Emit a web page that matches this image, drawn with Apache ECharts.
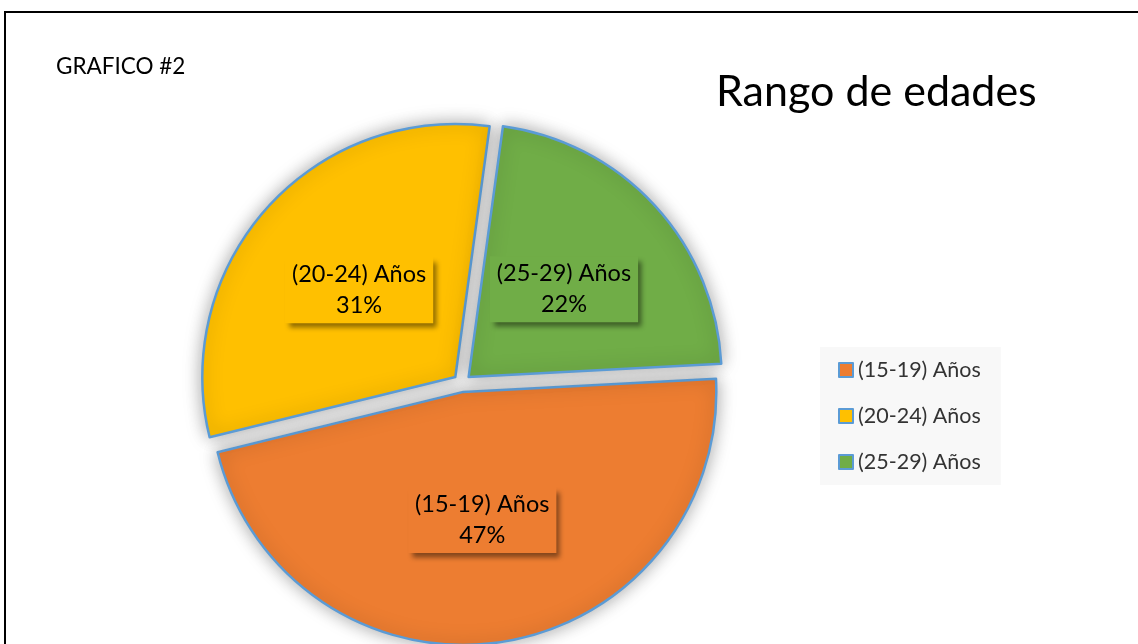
<!DOCTYPE html>
<html>
<head>
<meta charset="utf-8">
<script src="https://cdn.jsdelivr.net/npm/echarts@6/dist/echarts.min.js"></script>
<style>html,body{margin:0;padding:0;background:#fff}#c{width:1138px;height:644px}</style>
</head>
<body>
<div id="c"></div>
<script>
const categories = ['(15-19) Años', '(20-24) Años', '(25-29) Años'];
const values = [47, 31, 22];
const colors = ['#ED7D31', '#FFC000', '#70AD47'];

const chart = echarts.init(document.getElementById('c'), null, {renderer: 'canvas'});
const data = categories.map((c, i) => ({
  name: c, value: values[i], selected: true,
  itemStyle: {color: colors[i]},
  label: {backgroundColor: colors[i]}
}));
chart.setOption({
  animation: false,
  title: [
    {text: 'Rango de edades', left: 711, top: 66, textStyle: {fontFamily: 'Lato', fontSize: 43, fontWeight: 'normal', color: '#000'}},
    {text: 'GRAFICO #2', left: 51, top: 50, textStyle: {fontFamily: 'Lato', fontSize: 22.5, fontWeight: 'normal', color: '#000'}}
  ],
  legend: {
    orient: 'vertical', left: 820, top: 347, padding: [12, 20, 12, 18],
    backgroundColor: '#f8f8f8', itemWidth: 14, itemHeight: 14, itemGap: 24,
    icon: 'rect', selectedMode: false,
    textStyle: {fontFamily: 'Lato', fontSize: 21.5, color: '#333'},
    itemStyle: {borderColor: '#5B9BD5', borderWidth: 2},
    data: categories
  },
  graphic: [
    {type: 'rect', shape: {x: 5, y: 12, width: 1140, height: 700}, style: {fill: null, stroke: '#000', lineWidth: 2}, silent: true}
  ],
  series: [{
    type: 'pie', center: [462, 383], radius: 253, startAngle: 3, clockwise: true,
    selectedMode: 'multiple', selectedOffset: 9, avoidLabelOverlap: false,
    itemStyle: {borderColor: '#5B9BD5', borderWidth: 2.5, shadowBlur: 18, shadowColor: 'rgba(0,0,0,0.35)'},
    emphasis: {disabled: true},
    select: {itemStyle: {borderColor: '#5B9BD5', borderWidth: 2.5}},
    label: {
      show: true, position: 'inside', formatter: '{b}\n{d}%',
      fontFamily: 'Lato', fontSize: 23.5, color: '#000', lineHeight: 31,
      padding: [2, 7, 2, 7], align: 'center',
      shadowBlur: 5, shadowOffsetX: 4, shadowOffsetY: 5, shadowColor: 'rgba(0,0,0,0.45)'
    },
    labelLine: {show: false},
    data: data
  }]
});
</script>
</body>
</html>
